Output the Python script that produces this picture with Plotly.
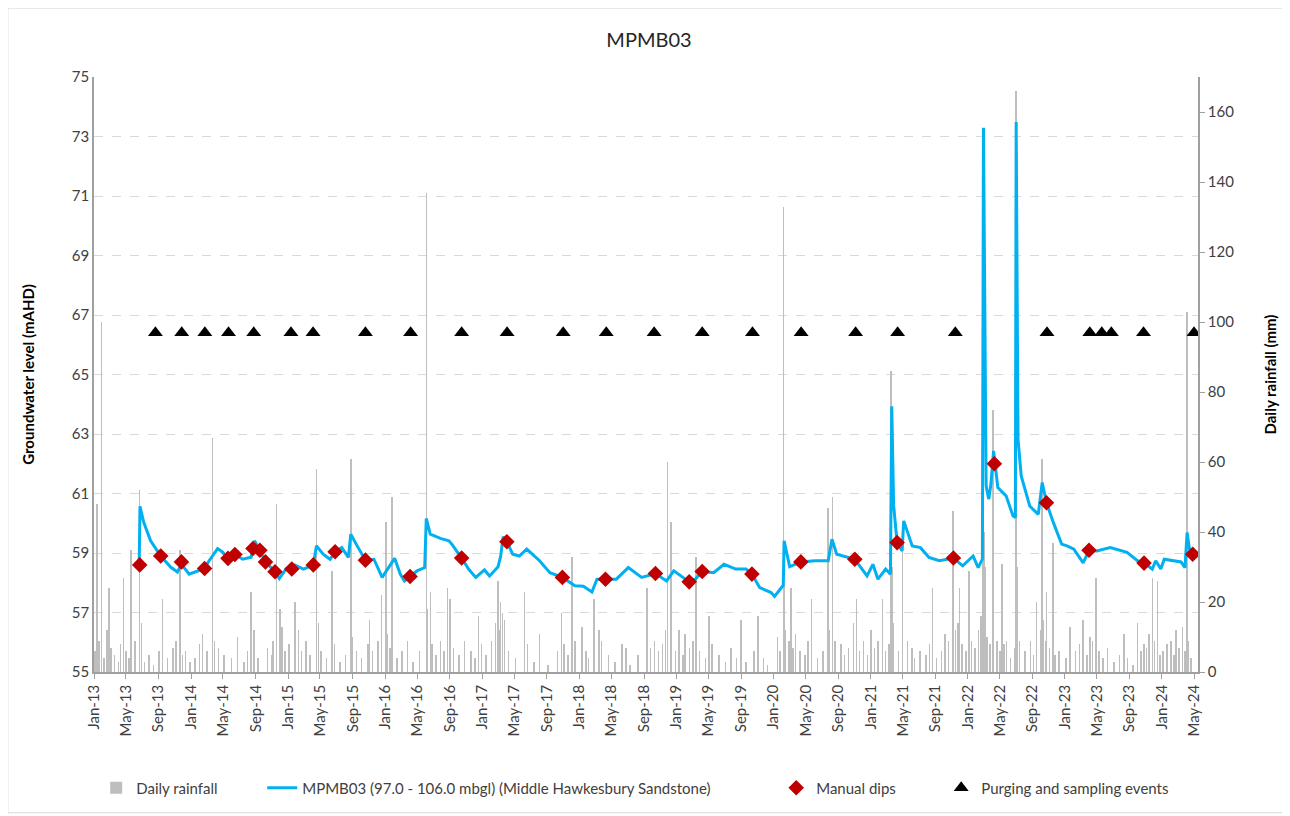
import plotly.graph_objects as go

# groundwater level (mAHD)
gw_dates = [
    "2013-06-20", "2013-06-23", "2013-07-07", "2013-08-02", "2013-09-09", "2013-10-17", "2013-11-11", "2013-11-26", "2013-12-25",
    "2014-01-26", "2014-02-21", "2014-03-10", "2014-04-11", "2014-05-01", "2014-05-18", "2014-06-20", "2014-07-14", "2014-08-15",
    "2014-08-28", "2014-09-17", "2014-10-08", "2014-11-13", "2014-11-29", "2014-12-26",
    "2015-01-15", "2015-01-27", "2015-02-28", "2015-04-06", "2015-04-18", "2015-05-13", "2015-06-08", "2015-06-27", "2015-07-22",
    "2015-08-16", "2015-08-25", "2015-09-18", "2015-10-19", "2015-11-20", "2015-12-21",
    "2016-01-14", "2016-02-06", "2016-02-27", "2016-03-14", "2016-04-04", "2016-04-30", "2016-05-29", "2016-06-04", "2016-06-19",
    "2016-07-27", "2016-08-28", "2016-09-08", "2016-10-15", "2016-11-10", "2016-12-07",
    "2017-01-09", "2017-01-28", "2017-03-01", "2017-03-11", "2017-03-20", "2017-04-03", "2017-04-25", "2017-05-20", "2017-06-17",
    "2017-08-04", "2017-09-12", "2017-10-29", "2017-12-15",
    "2018-01-16", "2018-02-17", "2018-03-08", "2018-04-09", "2018-05-20", "2018-07-04", "2018-08-23", "2018-10-14", "2018-11-25",
    "2018-12-22",
    "2019-02-18", "2019-03-13", "2019-04-08", "2019-05-21", "2019-06-29", "2019-08-12", "2019-09-20", "2019-10-12", "2019-11-10",
    "2019-12-23",
    "2020-01-05", "2020-02-07", "2020-02-09", "2020-02-10", "2020-03-02", "2020-04-13", "2020-06-05", "2020-07-25", "2020-08-08",
    "2020-08-26", "2020-11-02", "2020-12-05", "2020-12-18",
    "2021-01-09", "2021-01-28", "2021-02-26", "2021-03-16", "2021-03-21", "2021-03-28", "2021-04-10", "2021-04-29", "2021-05-05",
    "2021-06-06", "2021-07-07", "2021-08-08", "2021-09-16", "2021-11-08", "2021-12-13",
    "2022-01-21", "2022-02-09", "2022-02-25", "2022-03-01", "2022-03-11", "2022-03-21", "2022-03-29", "2022-04-08", "2022-04-24",
    "2022-05-25", "2022-06-20", "2022-06-29", "2022-07-02", "2022-07-09", "2022-07-21", "2022-08-22", "2022-09-23", "2022-10-08",
    "2022-10-24", "2022-11-19", "2022-12-20",
    "2023-01-09", "2023-02-04", "2023-03-11", "2023-04-02", "2023-05-01", "2023-06-21", "2023-08-23", "2023-10-01", "2023-10-26",
    "2023-11-26", "2023-12-09", "2023-12-28",
    "2024-01-10", "2024-03-13", "2024-03-28", "2024-04-05", "2024-04-14", "2024-04-26",
]
gw_level = [
    58.62, 60.57, 60.03, 59.41, 58.90, 58.52, 58.36, 58.62, 58.29,
    58.40, 58.48, 58.74, 59.15, 59.02, 58.79, 58.93, 58.79, 58.86,
    59.41, 59.09, 58.70, 58.37, 58.14, 58.48,
    58.46, 58.59, 58.46, 58.60, 59.24, 58.96, 58.79, 59.04, 59.18,
    58.85, 59.63, 59.24, 58.76, 58.79, 58.18,
    58.51, 58.82, 58.29, 58.06, 58.21, 58.40, 58.51, 60.16, 59.63,
    59.49, 59.41, 59.30, 58.83, 58.46, 58.18,
    58.43, 58.23, 58.54, 58.90, 59.55, 59.38, 58.96, 58.90, 59.13,
    58.74, 58.34, 58.18, 57.90,
    57.88, 57.69, 58.12, 58.12, 58.12, 58.51, 58.18, 58.31, 58.06,
    58.40,
    58.03, 58.12, 58.38, 58.34, 58.62, 58.46, 58.46, 58.29, 57.84,
    57.67,
    57.54, 57.92, 58.54, 59.41, 58.54, 58.70, 58.74, 58.74, 59.46,
    58.96, 58.79, 58.40, 58.23,
    58.62, 58.12, 58.46, 58.29, 63.93, 60.60, 59.35, 59.07, 60.08,
    59.24, 59.18, 58.85, 58.74, 58.83, 58.57,
    58.90, 58.51, 58.79, 73.29, 61.25, 60.81, 61.31, 62.43, 61.20,
    60.92, 60.25, 60.19, 73.49, 62.82, 61.59, 60.58, 60.30, 61.37,
    60.69, 60.02, 59.30,
    59.24, 59.13, 58.67, 59.09, 59.07, 59.18, 59.02, 58.74, 58.66,
    58.46, 58.74, 58.46,
    58.79, 58.70, 58.51, 59.69, 59.13, 58.96,
]

dip_dates = [
    "2013-06-22", "2013-09-09", "2013-11-26", "2014-02-21", "2014-05-20", "2014-06-15", "2014-08-22", "2014-09-17",
    "2014-10-08", "2014-11-13", "2015-01-15", "2015-04-06", "2015-06-27", "2015-10-19", "2016-04-04", "2016-10-15",
    "2017-04-03", "2017-10-29", "2018-04-09", "2018-10-14", "2019-02-18", "2019-04-08", "2019-10-12", "2020-04-13",
    "2020-11-02", "2021-04-10", "2021-11-08", "2022-04-11", "2022-10-24", "2023-04-02", "2023-10-26", "2024-04-26",
]
dip_level = [
    58.60, 58.90, 58.70, 58.48, 58.82, 58.95, 59.15, 59.09,
    58.70, 58.37, 58.46, 58.60, 59.04, 58.76, 58.21, 58.83,
    59.38, 58.18, 58.12, 58.31, 58.03, 58.38, 58.29, 58.70,
    58.79, 59.35, 58.83, 62.00, 60.69, 59.09, 58.66, 58.96,
]

event_dates = [
    "2013-08-20", "2013-11-27", "2014-02-22", "2014-05-22", "2014-08-25", "2015-01-12", "2015-04-05", "2015-10-19",
    "2016-04-06", "2016-10-15", "2017-04-04", "2017-11-01", "2018-04-12", "2018-10-09", "2019-04-08", "2019-10-14",
    "2020-04-14", "2020-11-05", "2021-04-12", "2021-11-15", "2022-10-26", "2023-04-05", "2023-05-20", "2023-06-25",
    "2023-10-24", "2024-05-01",
]
EVENT_LEVEL = 66.4

# bigger daily rainfall days (mm)
storm_dates = [
    "2013-01-13", "2013-01-29", "2013-02-26", "2013-04-22", "2013-05-21", "2013-06-22", "2013-09-15", "2013-11-21",
    "2014-03-22", "2014-08-15", "2014-11-19", "2014-12-02",
    "2015-01-27", "2015-04-18", "2015-06-16", "2015-08-25", "2015-11-04", "2015-12-19",
    "2016-01-04", "2016-01-27", "2016-06-04", "2016-06-19", "2016-08-22", "2016-09-01", "2016-12-18",
    "2017-03-01", "2017-03-11", "2017-06-08", "2017-08-04", "2017-10-25", "2017-12-05",
    "2018-01-10", "2018-02-24", "2018-03-15", "2018-06-26", "2018-09-13", "2018-11-28", "2018-12-12",
    "2019-01-11", "2019-02-03", "2019-03-16", "2019-05-04", "2019-09-01", "2019-11-03",
    "2020-01-16", "2020-02-07", "2020-03-06", "2020-03-23", "2020-05-23", "2020-07-25", "2020-08-10", "2020-09-12",
    "2020-10-28", "2020-11-08",
    "2021-01-01", "2021-02-14", "2021-03-19", "2021-05-01", "2021-06-06", "2021-08-21", "2021-10-08", "2021-11-06",
    "2021-12-01",
    "2022-01-06", "2022-02-27", "2022-04-05", "2022-05-10", "2022-05-26", "2022-07-02", "2022-09-17", "2022-10-08",
    "2022-10-24", "2022-11-17",
    "2023-01-21", "2023-03-11", "2023-04-06", "2023-04-29", "2023-08-11", "2023-10-01", "2023-11-14", "2023-11-26",
    "2023-12-15",
    "2024-02-24", "2024-03-19", "2024-04-05",
]
storm_mm = [
    48, 100, 24, 27, 35, 52, 21, 35,
    67, 23, 48, 18,
    20, 58, 29, 61, 15, 22,
    43, 50, 137, 23, 24, 21, 16,
    26, 20, 23, 11, 17, 33,
    13, 21, 12, 7, 24, 60, 43,
    12, 11, 33, 16, 15, 16,
    10, 133, 24, 11, 21, 47, 50, 8,
    14, 21,
    12, 21, 86, 37, 7, 24, 11, 46,
    24,
    29, 95, 75, 31, 9, 166, 20, 61,
    23, 37,
    13, 15, 10, 27, 11, 14, 11, 27,
    26,
    12, 13, 103,
]

# the small everyday falls along the base
shower_dates = [
    "2013-01-05", "2013-01-20", "2013-02-08", "2013-02-18", "2013-03-05", "2013-03-20", "2013-04-03", "2013-04-10",
    "2013-05-02", "2013-05-12", "2013-06-05", "2013-06-28", "2013-07-10", "2013-07-26", "2013-08-12", "2013-09-02",
    "2013-10-05", "2013-10-25", "2013-11-05", "2013-11-30", "2013-12-12", "2013-12-28",
    "2014-01-15", "2014-02-02", "2014-02-14", "2014-03-03", "2014-03-30", "2014-04-15", "2014-05-05", "2014-06-02",
    "2014-06-25", "2014-07-20", "2014-08-02", "2014-08-25", "2014-09-10", "2014-10-15", "2014-10-30", "2014-11-05",
    "2014-12-10", "2014-12-20",
    "2015-01-05", "2015-02-10", "2015-02-20", "2015-03-10", "2015-03-25", "2015-04-25", "2015-05-05", "2015-05-25",
    "2015-06-25", "2015-07-15", "2015-08-05", "2015-08-30", "2015-09-15", "2015-10-05", "2015-10-28", "2015-11-15",
    "2015-12-05",
    "2016-01-10", "2016-01-20", "2016-02-15", "2016-03-05", "2016-03-25", "2016-04-15", "2016-05-10", "2016-06-08",
    "2016-06-25", "2016-07-10", "2016-07-28", "2016-08-10", "2016-09-15", "2016-10-05", "2016-10-25", "2016-11-20",
    "2016-12-05", "2016-12-28",
    "2017-01-15", "2017-02-05", "2017-02-20", "2017-03-05", "2017-03-18", "2017-03-25", "2017-04-10", "2017-05-05",
    "2017-06-20", "2017-07-15", "2017-09-05", "2017-10-10", "2017-11-05", "2017-11-20", "2017-12-15",
    "2018-01-25", "2018-02-05", "2018-03-25", "2018-04-20", "2018-05-15", "2018-06-10", "2018-07-10", "2018-08-10",
    "2018-09-25", "2018-10-10", "2018-10-25", "2018-11-10", "2018-11-20", "2018-12-28",
    "2019-01-25", "2019-02-20", "2019-03-05", "2019-03-28", "2019-04-20", "2019-05-15", "2019-06-10", "2019-07-05",
    "2019-07-25", "2019-08-15", "2019-09-20", "2019-10-20", "2019-11-25", "2019-12-10",
    "2020-01-25", "2020-02-08", "2020-02-10", "2020-02-15", "2020-02-28", "2020-03-15", "2020-04-10", "2020-04-28",
    "2020-05-10", "2020-06-15", "2020-07-05", "2020-07-28", "2020-08-20", "2020-09-25", "2020-10-10", "2020-11-20",
    "2020-12-05", "2020-12-20",
    "2021-01-15", "2021-01-28", "2021-02-25", "2021-03-10", "2021-03-22", "2021-03-25", "2021-04-15", "2021-05-20",
    "2021-06-15", "2021-07-05", "2021-07-28", "2021-08-10", "2021-09-05", "2021-09-25", "2021-10-20", "2021-11-15",
    "2021-11-25", "2021-12-10", "2021-12-25",
    "2022-01-15", "2022-01-28", "2022-02-10", "2022-02-20", "2022-02-25", "2022-03-02", "2022-03-05", "2022-03-08",
    "2022-03-15", "2022-03-25", "2022-04-08", "2022-04-20", "2022-05-02", "2022-05-18", "2022-06-10", "2022-06-25",
    "2022-07-04", "2022-07-06", "2022-07-15", "2022-08-05", "2022-08-25", "2022-09-05", "2022-10-02", "2022-10-12",
    "2022-10-20", "2022-11-05", "2022-11-25", "2022-12-10",
    "2023-01-05", "2023-02-10", "2023-02-25", "2023-03-25", "2023-04-15", "2023-05-10", "2023-05-25", "2023-06-10",
    "2023-07-05", "2023-07-25", "2023-08-25", "2023-09-15", "2023-10-15", "2023-10-25", "2023-11-05", "2023-12-05",
    "2023-12-25",
    "2024-01-05", "2024-01-20", "2024-02-05", "2024-02-15", "2024-03-05", "2024-03-28", "2024-04-08", "2024-04-20",
]
shower_mm = [
    6, 9, 4, 12, 7, 5, 3, 8,
    6, 4, 9, 14, 3, 5, 2, 6,
    4, 7, 9, 5, 6, 3,
    4, 8, 11, 6, 9, 7, 5, 4,
    10, 3, 6, 12, 4, 7, 5, 9,
    13, 6,
    8, 12, 6, 9, 5, 14, 6, 4,
    8, 3, 5, 10, 6, 4, 8, 6,
    9,
    11, 7, 4, 6, 9, 3, 6, 18,
    8, 5, 9, 6, 7, 5, 9, 6,
    4, 8,
    5, 9, 14, 12, 17, 15, 6, 4,
    8, 3, 2, 6, 8, 5, 9,
    6, 4, 9, 5, 3, 8, 2, 5,
    7, 9, 6, 8, 12, 6,
    5, 7, 9, 6, 4, 8, 5, 3,
    7, 4, 3, 6, 4, 2,
    6, 40, 25, 12, 9, 7, 6, 5,
    9, 4, 6, 12, 9, 5, 7, 6,
    9, 5,
    7, 9, 6, 8, 30, 14, 6, 9,
    4, 6, 5, 8, 4, 6, 9, 12,
    14, 8, 6,
    9, 7, 12, 16, 22, 40, 25, 30,
    10, 8, 14, 9, 6, 8, 4, 7,
    45, 30, 9, 6, 9, 5, 12, 15,
    9, 7, 5, 6,
    4, 6, 8, 5, 9, 6, 4, 7,
    3, 5, 4, 2, 6, 8, 7, 9,
    5,
    6, 8, 9, 5, 7, 6, 9, 4,
]

DAY_MS = 86400000
TXT = "#404040"
AXIS_GREY = "#A0A0A0"

fig = go.Figure()

fig.add_trace(go.Bar(
    x=storm_dates + shower_dates, y=storm_mm + shower_mm,
    width=2 * DAY_MS, marker=dict(color="#BEBEBE", line=dict(width=0)),
    name="Daily rainfall", yaxis="y", legendwidth=121,
))
fig.add_trace(go.Scatter(
    x=gw_dates, y=gw_level, mode="lines", yaxis="y2",
    line=dict(color="#00B0F0", width=3),
    name="MPMB03 (97.0 - 106.0 mbgl) (Middle Hawkesbury Sandstone)", legendwidth=469,
))
fig.add_trace(go.Scatter(
    x=dip_dates, y=dip_level, mode="markers", yaxis="y2",
    marker=dict(symbol="diamond", color="#C00000", size=12),
    name="Manual dips", legendwidth=120,
))
fig.add_trace(go.Scatter(
    x=event_dates, y=[EVENT_LEVEL] * len(event_dates), mode="markers", yaxis="y2",
    marker=dict(symbol="triangle-up", color="black", size=13),
    name="Purging and sampling events", legendwidth=190,
))

# the page body adds an 8px offset, so the figure is sized to sit in the window
fig.update_layout(
    width=1282, height=808,
    margin=dict(l=86, r=92, t=69, b=135),
    paper_bgcolor="white", plot_bgcolor="white",
    font=dict(family="Lato, Open Sans, sans-serif", size=15, color=TXT),
    title=dict(text="MPMB03", x=0.5, xanchor="center", y=0.960, yanchor="middle",
               font=dict(size=20, color="#262626")),
    bargap=0,
    showlegend=True,
    legend=dict(orientation="h", x=0.002, xanchor="left", y=-0.195, yanchor="middle",
                font=dict(size=15, color=TXT), traceorder="normal"),
    xaxis=dict(
        type="date", range=["2013-01-01", "2024-05-16"],
        tick0="2013-01-01", dtick="M4", tickformat="%b-%y", tickangle=-90,
        ticks="outside", ticklen=5, tickcolor=AXIS_GREY,
        showline=True, linecolor=AXIS_GREY, linewidth=1.5, showgrid=False, zeroline=False,
    ),
    yaxis=dict(
        side="right", range=[0, 170], dtick=20, tick0=0,
        ticks="outside", ticklen=5, tickcolor=AXIS_GREY,
        showline=True, linecolor=AXIS_GREY, linewidth=1.5, showgrid=False, zeroline=False,
        title=dict(text="Daily rainfall (mm)", font=dict(size=15, weight="bold", color="black"), standoff=32),
    ),
    yaxis2=dict(
        overlaying="y", side="left", range=[55, 75], dtick=2, tick0=55,
        showline=True, linecolor=AXIS_GREY, linewidth=1.5, ticks="",
        showgrid=True, gridcolor="#D9D9D9", griddash="dash", gridwidth=1, zeroline=False,
        title=dict(text="Groundwater level (mAHD)", font=dict(size=15, weight="bold", color="black"), standoff=34),
    ),
    shapes=[dict(type="rect", xref="paper", yref="paper", x0=-0.0780, x1=1.0885, y0=-0.2366, y1=1.1158,
                 line=dict(color="#D9D9D9", width=1), fillcolor="rgba(0,0,0,0)", layer="below")],
)

fig.write_html("out.html")
